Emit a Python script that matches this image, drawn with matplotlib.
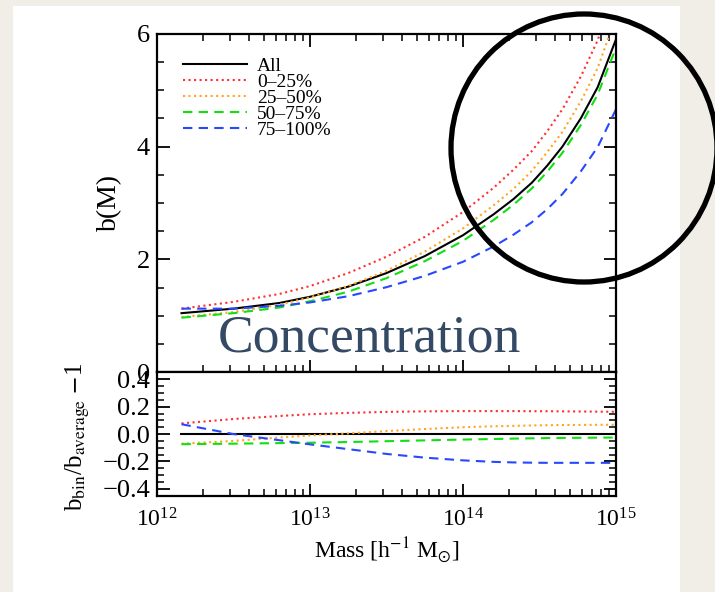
from matplotlib import pyplot as plt
from matplotlib.patches import Rectangle, Ellipse
from matplotlib.ticker import MultipleLocator, FixedLocator, FixedFormatter, LogLocator, NullFormatter

# log10 of halo mass [h^-1 Msun]
log_mass = [12.16, 12.5, 12.8, 13.0, 13.25, 13.5, 13.75, 14.0,
            14.2, 14.33, 14.45, 14.55, 14.65, 14.77, 14.88, 15.0]

# b(M), top panel
b_all = [1.05, 1.13, 1.23, 1.34, 1.52, 1.76, 2.06, 2.43,
         2.80, 3.07, 3.36, 3.66, 4.00, 4.50, 5.05, 5.90]
b_q1 = [1.13, 1.25, 1.39, 1.53, 1.76, 2.05, 2.40, 2.84,
        3.27, 3.59, 3.92, 4.27, 4.66, 5.24, 5.88, 6.86]
b_q2 = [0.98, 1.07, 1.20, 1.33, 1.53, 1.80, 2.14, 2.55,
        2.96, 3.25, 3.57, 3.90, 4.26, 4.80, 5.39, 6.30]
b_q3 = [0.97, 1.05, 1.15, 1.26, 1.43, 1.67, 1.97, 2.33,
        2.70, 2.97, 3.26, 3.55, 3.89, 4.38, 4.92, 5.75]
b_q4 = [1.13, 1.13, 1.18, 1.24, 1.35, 1.51, 1.71, 1.96,
        2.23, 2.44, 2.66, 2.89, 3.16, 3.56, 3.99, 4.66]

# b_bin / b_average - 1, bottom panel
r_all = [0.0] * 16
r_q1 = [0.078, 0.11, 0.132, 0.145, 0.155, 0.162, 0.166, 0.168,
        0.168, 0.168, 0.167, 0.167, 0.166, 0.165, 0.164, 0.163]
r_q2 = [-0.07, -0.05, -0.025, -0.01, 0.005, 0.022, 0.037, 0.05,
        0.057, 0.06, 0.063, 0.065, 0.066, 0.067, 0.068, 0.068]
r_q3 = [-0.074, -0.07, -0.066, -0.063, -0.058, -0.052, -0.046, -0.04,
        -0.036, -0.033, -0.031, -0.029, -0.028, -0.027, -0.026, -0.025]
r_q4 = [0.072, 0.0, -0.045, -0.075, -0.11, -0.145, -0.172, -0.192,
        -0.203, -0.207, -0.209, -0.21, -0.21, -0.21, -0.21, -0.21]

labels = ["All", "0\u201325%", "25\u201350%", "50\u201375%", "75\u2013100%"]
colors = ["black", "#ff3030", "#ffa520", "#10e010", "#2848ff"]
styles = ["-", ":", ":", (0, (4.5, 3)), (0, (4.5, 3))]

top_ticks = [0, 2, 4, 6]
bot_ticks = [-0.4, -0.2, 0.0, 0.2, 0.4]
bot_tick_labels = ["\u22120.4", "\u22120.2", "0.0", "0.2", "0.4"]


def style_axis(ax, top=True):
    ax.set_xscale("log")
    ax.set_xlim(1e12, 1e15)
    ax.xaxis.set_major_locator(LogLocator(base=10, numticks=10))
    ax.xaxis.set_minor_locator(LogLocator(base=10, subs=range(2, 10), numticks=20))
    ax.xaxis.set_minor_formatter(NullFormatter())
    ax.tick_params(which="both", direction="in", top=top, right=True)
    ax.tick_params(axis="y", labelsize=19, pad=5)
    ax.tick_params(axis="x", labelsize=17, pad=9)
    ax.tick_params(which="major", length=9, width=1.3)
    ax.tick_params(which="minor", length=5, width=1.1)
    for s in ax.spines.values():
        s.set_linewidth(1.6)


def main():
    plt.rcParams["font.family"] = ["Liberation Serif", "DejaVu Serif"]
    plt.rcParams["mathtext.fontset"] = "stix"

    fig = plt.figure(figsize=(7.15, 5.92), dpi=100)
    fig.patch.set_facecolor("#f1eee8")
    fig.patches.append(Rectangle((13 / 715, 0), 667 / 715, 586 / 592,
                                 transform=fig.transFigure, facecolor="white",
                                 edgecolor="none", zorder=-1))

    ax1 = fig.add_axes([0.2196, 0.3708, 0.642, 0.5726])
    ax2 = fig.add_axes([0.2196, 0.1627, 0.642, 0.2081])

    mass = [10 ** m for m in log_mass]
    tops = [b_all, b_q1, b_q2, b_q3, b_q4]
    bots = [r_all, r_q1, r_q2, r_q3, r_q4]
    for top, bot, lab, c, ls in zip(tops, bots, labels, colors, styles):
        ax1.plot(mass, top, color=c, linestyle=ls, lw=1.5, label=lab)
        ax2.plot(mass, bot, color=c, linestyle=ls, lw=1.5)

    style_axis(ax1)
    ax1.set_ylim(0, 6)
    ax1.yaxis.set_major_locator(FixedLocator(top_ticks))
    ax1.yaxis.set_minor_locator(MultipleLocator(0.5))
    ax1.tick_params(labelbottom=False)
    ax1.set_ylabel("b(M)", fontsize=20)
    ax1.yaxis.set_label_coords(-0.076, 0.5)
    ax1.legend(loc="upper left", bbox_to_anchor=(0.0566, 0.931), frameon=False,
               fontsize=14, labelspacing=-0.08, handlelength=3.3,
               handletextpad=0.5, borderpad=0, borderaxespad=0)

    style_axis(ax2, top=False)
    ax2.set_ylim(-0.45, 0.45)
    ax2.yaxis.set_major_locator(FixedLocator(bot_ticks))
    ax2.yaxis.set_major_formatter(FixedFormatter(bot_tick_labels))
    ax2.yaxis.set_minor_locator(MultipleLocator(0.05))
    ax2.set_ylabel(r"b$_{\rm bin}$/b$_{\rm average}$ $-$1", fontsize=18)
    ax2.yaxis.set_label_coords(-0.142, 0.476)
    ax2.set_xlabel(r"Mass [h$^{-1}$ M$_{\odot}$]", fontsize=17)
    ax2.xaxis.set_label_coords(0.5, -0.32)

    fig.text(369 / 715, 1 - 352 / 592, "Concentration", ha="center",
             va="baseline", fontsize=38.5, color="#344a64")
    fig.patches.append(Ellipse((584 / 715, 1 - 148 / 592), 266 / 715, 268 / 592,
                               transform=fig.transFigure, fill=False,
                               edgecolor="black", lw=3.8, zorder=10))

    fig.savefig("out.png", dpi=100, facecolor=fig.get_facecolor())


if __name__ == "__main__":
    main()
